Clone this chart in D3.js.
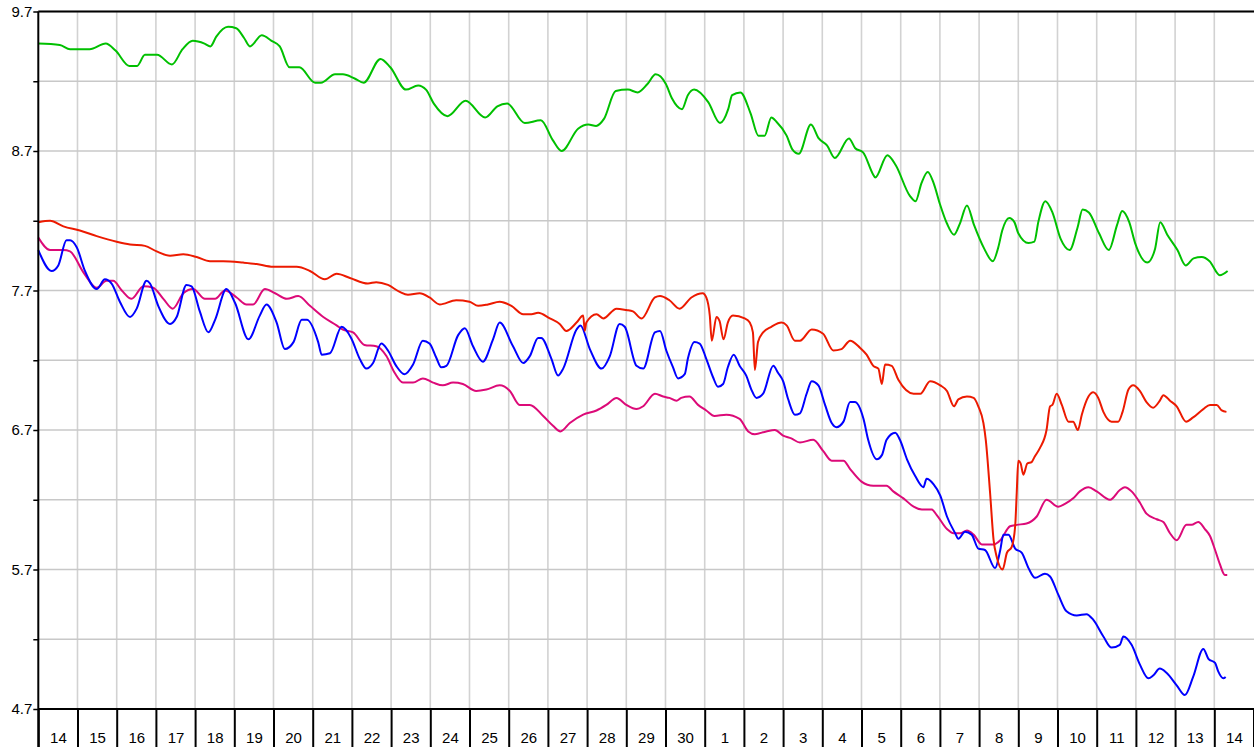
<!DOCTYPE html>
<html>
<head>
<meta charset="utf-8">
<style>
  body { margin: 0; background: #fff; }
  svg { display: block; font-family: "Liberation Sans", Arial, sans-serif; }
</style>
</head>
<body>
<svg id="chart" width="1254" height="747"></svg>
<script src="https://cdn.jsdelivr.net/npm/d3@7/dist/d3.min.js"></script>
<script>
// day labels along the bottom (one per day)
const dayLabels = ["14","15","16","17","18","19","20","21","22","23","24","25","26","27","28","29","30",
  "1","2","3","4","5","6","7","8","9","10","11","12","13","14"];
const yTicks = [4.7, 5.2, 5.7, 6.2, 6.7, 7.2, 7.7, 8.2, 8.7, 9.2, 9.7];
const yLabels = [4.7, 5.7, 6.7, 7.7, 8.7, 9.7];

// [day offset, value]
const green = [[0,9.47],[0.55,9.46],[0.81,9.43],[1.31,9.43],[1.72,9.47],[1.97,9.42],[2.32,9.31],[2.52,9.31],[2.72,9.39],[3.03,9.39],[3.41,9.32],[3.68,9.43],[3.94,9.49],[4.24,9.47],[4.39,9.45],[4.54,9.52],[4.84,9.59],[5.05,9.58],[5.25,9.51],[5.40,9.45],[5.70,9.53],[5.95,9.49],[6.16,9.45],[6.41,9.30],[6.66,9.30],[7.06,9.19],[7.21,9.19],[7.57,9.25],[7.77,9.25],[8.07,9.22],[8.30,9.19],[8.73,9.36],[8.98,9.30],[9.38,9.14],[9.69,9.17],[9.89,9.14],[10.09,9.04],[10.44,8.95],[10.90,9.06],[11.40,8.94],[11.71,9.02],[11.96,9.04],[12.41,8.90],[12.82,8.92],[13.12,8.78],[13.35,8.70],[13.77,8.86],[14.03,8.89],[14.23,8.88],[14.43,8.93],[14.73,9.13],[15.04,9.14],[15.29,9.12],[15.54,9.18],[15.75,9.25],[16.01,9.18],[16.16,9.08],[16.42,9.00],[16.57,9.10],[16.73,9.14],[17.09,9.05],[17.39,8.90],[17.60,9.00],[17.70,9.10],[17.91,9.12],[18.17,8.97],[18.37,8.81],[18.53,8.81],[18.70,8.94],[18.83,8.91],[19.09,8.81],[19.24,8.71],[19.40,8.68],[19.71,8.89],[19.91,8.79],[20.12,8.74],[20.32,8.65],[20.68,8.79],[20.84,8.72],[21.04,8.69],[21.30,8.53],[21.35,8.51],[21.66,8.67],[21.87,8.60],[22.23,8.38],[22.38,8.34],[22.53,8.47],[22.69,8.55],[22.84,8.47],[23.00,8.32],[23.18,8.18],[23.36,8.10],[23.51,8.18],[23.69,8.31],[23.87,8.17],[24.13,8.00],[24.35,7.91],[24.49,8.01],[24.59,8.13],[24.77,8.22],[24.90,8.19],[25.00,8.11],[25.26,8.04],[25.41,8.05],[25.51,8.19],[25.69,8.34],[25.87,8.26],[26.08,8.07],[26.31,7.99],[26.51,8.15],[26.64,8.28],[26.80,8.26],[27.06,8.11],[27.31,7.99],[27.52,8.17],[27.65,8.27],[27.83,8.19],[27.98,8.04],[28.29,7.90],[28.49,8.00],[28.62,8.19],[28.80,8.10],[29.06,7.99],[29.27,7.88],[29.47,7.93],[29.68,7.94],[29.88,7.91],[30.14,7.81],[30.34,7.84]];

const red = [[0,8.19],[0.30,8.20],[0.64,8.16],[1.06,8.13],[1.49,8.09],[2.00,8.05],[2.34,8.03],[2.72,8.02],[3.02,7.98],[3.36,7.95],[3.70,7.96],[4.04,7.94],[4.38,7.91],[4.72,7.91],[5.23,7.90],[5.57,7.89],[5.99,7.87],[6.34,7.87],[6.59,7.87],[6.93,7.84],[7.31,7.78],[7.61,7.82],[7.95,7.79],[8.41,7.75],[8.62,7.76],[8.92,7.74],[9.22,7.69],[9.43,7.67],[9.73,7.68],[9.98,7.65],[10.24,7.60],[10.66,7.63],[11.00,7.62],[11.22,7.59],[11.47,7.60],[11.77,7.62],[12.07,7.59],[12.37,7.53],[12.58,7.53],[12.75,7.54],[13.05,7.50],[13.30,7.46],[13.47,7.41],[13.73,7.47],[13.90,7.52],[13.94,7.41],[13.98,7.47],[14.24,7.53],[14.41,7.50],[14.75,7.57],[15.00,7.56],[15.17,7.55],[15.39,7.50],[15.73,7.65],[15.86,7.66],[16.10,7.63],[16.36,7.57],[16.66,7.65],[16.95,7.68],[17.04,7.65],[17.13,7.52],[17.18,7.34],[17.30,7.51],[17.38,7.48],[17.48,7.35],[17.59,7.47],[17.72,7.52],[18.02,7.50],[18.15,7.47],[18.23,7.40],[18.28,7.13],[18.36,7.33],[18.49,7.40],[18.70,7.44],[18.96,7.47],[19.09,7.45],[19.30,7.34],[19.43,7.34],[19.73,7.42],[20.02,7.39],[20.28,7.27],[20.49,7.28],[20.71,7.34],[20.96,7.29],[21.13,7.24],[21.30,7.16],[21.43,7.14],[21.52,7.03],[21.60,7.17],[21.77,7.16],[21.94,7.06],[22.33,6.96],[22.50,6.96],[22.75,7.05],[23.01,7.02],[23.18,6.98],[23.36,6.87],[23.47,6.92],[23.69,6.94],[23.86,6.93],[23.98,6.87],[24.11,6.75],[24.17,6.63],[24.28,6.25],[24.37,5.91],[24.45,5.79],[24.60,5.70],[24.71,5.82],[24.83,5.86],[24.92,6.01],[24.96,6.25],[25.00,6.48],[25.06,6.46],[25.13,6.38],[25.23,6.46],[25.34,6.47],[25.42,6.51],[25.55,6.57],[25.72,6.70],[25.81,6.87],[25.87,6.88],[25.98,6.96],[26.11,6.88],[26.28,6.76],[26.40,6.76],[26.52,6.70],[26.62,6.81],[26.79,6.94],[26.91,6.97],[27.04,6.93],[27.17,6.83],[27.38,6.76],[27.55,6.76],[27.66,6.83],[27.81,6.99],[27.93,7.02],[28.10,6.98],[28.27,6.90],[28.44,6.86],[28.61,6.91],[28.70,6.95],[28.87,6.91],[29.04,6.87],[29.28,6.76],[29.46,6.79],[29.72,6.85],[29.89,6.88],[30.06,6.88],[30.19,6.84],[30.31,6.83]];

const pink = [[0,8.08],[0.30,7.99],[0.64,7.99],[0.81,7.98],[1.15,7.83],[1.49,7.72],[1.74,7.77],[1.91,7.77],[2.13,7.70],[2.38,7.64],[2.68,7.73],[2.93,7.72],[3.19,7.64],[3.43,7.57],[3.70,7.68],[3.95,7.71],[4.25,7.64],[4.51,7.64],[4.76,7.70],[5.06,7.65],[5.31,7.60],[5.48,7.60],[5.78,7.71],[6.04,7.68],[6.34,7.64],[6.63,7.66],[6.93,7.59],[7.27,7.51],[7.61,7.45],[7.77,7.42],[8.03,7.40],[8.32,7.31],[8.62,7.30],[8.88,7.23],[9.09,7.11],[9.30,7.04],[9.56,7.04],[9.81,7.07],[10.07,7.04],[10.32,7.02],[10.58,7.04],[10.83,7.03],[11.17,6.98],[11.43,6.99],[11.77,7.02],[12.03,6.98],[12.28,6.88],[12.54,6.88],[12.88,6.80],[13.13,6.73],[13.32,6.69],[13.56,6.75],[13.90,6.81],[14.24,6.84],[14.49,6.88],[14.75,6.93],[15.00,6.88],[15.26,6.85],[15.43,6.87],[15.73,6.96],[15.94,6.94],[16.10,6.93],[16.28,6.91],[16.40,6.93],[16.61,6.94],[16.83,6.88],[17.04,6.84],[17.25,6.80],[17.55,6.81],[17.89,6.78],[18.11,6.69],[18.28,6.67],[18.57,6.69],[18.79,6.70],[19.00,6.66],[19.21,6.64],[19.43,6.61],[19.77,6.63],[20.02,6.55],[20.24,6.48],[20.54,6.48],[20.71,6.42],[21.00,6.33],[21.30,6.30],[21.64,6.30],[21.81,6.26],[22.07,6.21],[22.33,6.15],[22.54,6.13],[22.79,6.13],[22.92,6.09],[23.18,5.99],[23.35,5.96],[23.52,5.96],[23.69,5.98],[23.86,5.95],[24.07,5.88],[24.37,5.88],[24.54,5.91],[24.79,6.01],[24.96,6.02],[25.21,6.03],[25.47,6.08],[25.72,6.20],[26.02,6.15],[26.19,6.17],[26.40,6.21],[26.57,6.26],[26.79,6.29],[27.00,6.26],[27.34,6.20],[27.59,6.27],[27.72,6.29],[27.89,6.26],[28.10,6.18],[28.27,6.10],[28.53,6.06],[28.70,6.04],[28.87,5.96],[29.04,5.91],[29.29,6.02],[29.42,6.02],[29.59,6.04],[29.76,5.99],[29.89,5.94],[30.02,5.84],[30.14,5.74],[30.27,5.66],[30.33,5.66]];

const blue = [[0,7.99],[0.34,7.84],[0.51,7.88],[0.72,8.06],[0.81,8.06],[0.98,8.01],[1.19,7.84],[1.49,7.71],[1.70,7.78],[1.87,7.75],[2.08,7.62],[2.34,7.51],[2.51,7.57],[2.76,7.77],[2.85,7.75],[3.06,7.59],[3.36,7.46],[3.53,7.51],[3.78,7.74],[3.91,7.73],[4.12,7.55],[4.34,7.40],[4.51,7.49],[4.80,7.71],[5.02,7.61],[5.36,7.35],[5.65,7.52],[5.82,7.60],[6.08,7.47],[6.29,7.28],[6.51,7.33],[6.72,7.49],[6.85,7.49],[7.14,7.33],[7.23,7.24],[7.44,7.25],[7.74,7.44],[7.98,7.36],[8.20,7.21],[8.37,7.14],[8.54,7.18],[8.75,7.32],[8.92,7.27],[9.13,7.16],[9.34,7.10],[9.56,7.17],[9.81,7.34],[9.98,7.32],[10.15,7.22],[10.28,7.15],[10.41,7.16],[10.71,7.38],[10.88,7.43],[11.09,7.30],[11.34,7.19],[11.60,7.35],[11.77,7.47],[12.11,7.30],[12.37,7.18],[12.54,7.23],[12.75,7.36],[12.83,7.36],[13.09,7.21],[13.26,7.09],[13.39,7.14],[13.73,7.42],[13.83,7.45],[14.07,7.28],[14.37,7.14],[14.58,7.23],[14.83,7.46],[14.96,7.44],[15.26,7.16],[15.43,7.14],[15.73,7.40],[15.86,7.41],[16.02,7.27],[16.19,7.15],[16.32,7.07],[16.49,7.10],[16.57,7.21],[16.74,7.33],[16.87,7.32],[17.04,7.21],[17.21,7.08],[17.34,7.01],[17.47,7.03],[17.59,7.15],[17.74,7.24],[17.89,7.16],[18.06,7.09],[18.19,6.99],[18.32,6.93],[18.49,6.96],[18.75,7.16],[18.87,7.11],[19.00,7.05],[19.13,6.92],[19.30,6.81],[19.43,6.82],[19.60,6.96],[19.73,7.05],[19.90,7.02],[20.07,6.88],[20.24,6.75],[20.36,6.72],[20.54,6.76],[20.71,6.90],[20.83,6.90],[21.05,6.78],[21.17,6.63],[21.39,6.49],[21.52,6.52],[21.64,6.63],[21.86,6.68],[21.98,6.63],[22.16,6.49],[22.37,6.37],[22.58,6.29],[22.66,6.35],[22.84,6.31],[23.01,6.23],[23.18,6.08],[23.39,5.96],[23.47,5.92],[23.64,5.97],[23.81,5.95],[23.98,5.85],[24.15,5.84],[24.41,5.71],[24.54,5.84],[24.62,5.95],[24.75,5.95],[24.92,5.85],[25.09,5.82],[25.26,5.71],[25.43,5.64],[25.68,5.67],[25.81,5.65],[26.02,5.52],[26.23,5.40],[26.49,5.37],[26.74,5.38],[26.91,5.34],[27.17,5.22],[27.38,5.14],[27.59,5.16],[27.68,5.22],[27.89,5.16],[28.10,5.02],[28.32,4.92],[28.44,4.94],[28.61,4.99],[28.78,4.96],[29.04,4.87],[29.25,4.80],[29.46,4.93],[29.72,5.13],[29.85,5.06],[30.02,5.03],[30.10,4.97],[30.23,4.92],[30.29,4.93]];

const series = [
  { data: green, color: "#00c000" },
  { data: pink, color: "#dc0a78" },
  { data: blue, color: "#0000ff" },
  { data: red, color: "#ec1a00" }
];

const W = 1254, H = 747;
const mLeft = 38.3, mTop = 11.5, mBottom = 709, step = 39.2;
const n = dayLabels.length;

const svg = d3.select("#chart");

const x = d3.scaleLinear().domain([0, n]).range([mLeft, mLeft + step * n]);
const y = d3.scaleLinear().domain([4.7, 9.7]).range([mBottom, mTop]);

// grid
svg.append("g")
  .selectAll("line")
  .data(d3.range(1, n))
  .enter()
  .append("line")
  .attr("x1", d => x(d)).attr("x2", d => x(d))
  .attr("y1", mTop).attr("y2", mBottom)
  .attr("stroke", "#d2d2d2")
  .attr("stroke-width", 1.6);

svg.append("g")
  .selectAll("line")
  .data(yTicks)
  .enter()
  .append("line")
  .attr("x1", mLeft).attr("x2", W)
  .attr("y1", d => y(d)).attr("y2", d => y(d))
  .attr("stroke", "#c8c8c8")
  .attr("stroke-width", 1.4);

// series
const line = d3.line().x(d => x(d[0])).y(d => y(d[1])).curve(d3.curveMonotoneX);
svg.append("g")
  .selectAll("path")
  .data(series)
  .enter()
  .append("path")
  .attr("d", d => line(d.data))
  .attr("fill", "none")
  .attr("stroke", d => d.color)
  .attr("stroke-width", 2)
  .attr("stroke-linejoin", "round");

// y axis
const yAxis = d3.axisLeft(y)
  .tickValues(yTicks)
  .tickSize(5)
  .tickSizeOuter(0)
  .tickPadding(1)
  .tickFormat(d => yLabels.includes(d) ? d3.format(".1f")(d) : "");
const ga = svg.append("g").attr("transform", "translate(" + mLeft + ",0)").call(yAxis);
ga.select(".domain").remove();
ga.selectAll("line").attr("stroke", "#000").attr("stroke-width", 1.5);
ga.selectAll("text").attr("font-size", 15).attr("font-family", "Liberation Sans, Arial, sans-serif").attr("fill", "#000");

// x axis: day boundaries and labels
const xTicks = d3.axisBottom(x).tickValues(d3.range(0, n + 1)).tickSize(H - mBottom).tickSizeOuter(0).tickFormat("");
const gb = svg.append("g").attr("transform", "translate(0," + mBottom + ")").call(xTicks);
gb.select(".domain").remove();
gb.selectAll("line").attr("stroke", "#000").attr("stroke-width", 2);

const xLab = d3.axisBottom(x).tickValues(d3.range(n).map(i => i + 0.5)).tickSize(0).tickPadding(23)
  .tickFormat(d => dayLabels[Math.floor(d)]);
const gc = svg.append("g").attr("transform", "translate(0," + mBottom + ")").call(xLab);
gc.select(".domain").remove();
gc.selectAll("text").attr("font-size", 15).attr("font-family", "Liberation Sans, Arial, sans-serif").attr("fill", "#000");

// frame lines
svg.append("line").attr("x1", mLeft).attr("x2", W).attr("y1", mTop).attr("y2", mTop).attr("stroke", "#000").attr("stroke-width", 2);
svg.append("line").attr("x1", mLeft).attr("x2", W).attr("y1", mBottom).attr("y2", mBottom).attr("stroke", "#000").attr("stroke-width", 2);
svg.append("line").attr("x1", mLeft).attr("x2", mLeft).attr("y1", mTop).attr("y2", H).attr("stroke", "#000").attr("stroke-width", 2);
</script>
</body>
</html>
